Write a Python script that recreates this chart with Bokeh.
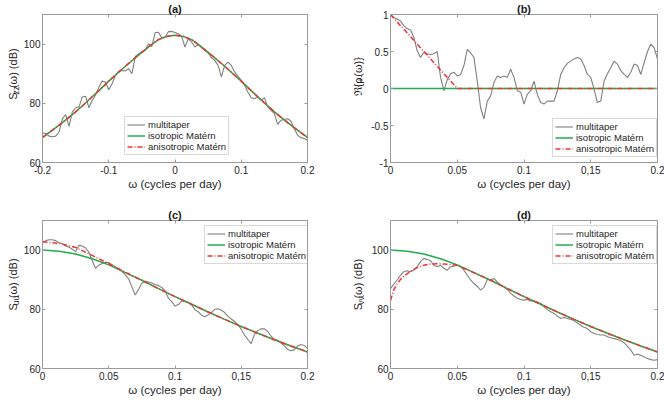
import math
from bokeh.plotting import figure
from bokeh.models import FixedTicker, LinearAxis, Legend, LegendItem, Range1d
from bokeh.core.properties import value
from bokeh.layouts import column, row
from bokeh.embed import file_html
from bokeh.resources import INLINE

# ---------------- data ----------------
FREQ_A = [-0.200, -0.195, -0.190, -0.185, -0.180, -0.175, -0.170, -0.165, -0.160, -0.155,
          -0.150, -0.145, -0.140, -0.135, -0.130, -0.125, -0.120, -0.115, -0.110, -0.105,
          -0.100, -0.095, -0.090, -0.085, -0.080, -0.075, -0.070, -0.065, -0.060, -0.055,
          -0.050, -0.045, -0.040, -0.035, -0.030, -0.025, -0.020, -0.015, -0.010, -0.005,
          0.000, 0.005, 0.010, 0.015, 0.020, 0.025, 0.030, 0.035, 0.040, 0.045,
          0.050, 0.055, 0.060, 0.065, 0.070, 0.075, 0.080, 0.085, 0.090, 0.095,
          0.100, 0.105, 0.110, 0.115, 0.120, 0.125, 0.130, 0.135, 0.140, 0.145,
          0.150, 0.155, 0.160, 0.165, 0.170, 0.175, 0.180, 0.185, 0.190, 0.195,
          0.200]
MT_A = [70.0, 69.8, 68.9, 68.7, 68.9, 70.3, 74.8, 76.2, 72.2, 77.1,
        78.5, 78.8, 82.1, 82.4, 78.5, 81.0, 82.7, 85.3, 87.5, 87.2,
        84.6, 86.6, 89.4, 90.9, 91.1, 90.9, 91.7, 90.0, 95.8, 96.7,
        97.3, 97.9, 100.1, 99.2, 103.9, 104.0, 102.1, 102.4, 104.2, 104.3,
        103.9, 103.5, 102.6, 99.0, 101.8, 100.7, 99.0, 99.9, 98.8, 97.9,
        97.0, 95.4, 94.5, 92.8, 88.9, 92.8, 93.9, 92.8, 90.6, 89.1,
        87.8, 86.1, 83.8, 81.9, 81.6, 82.1, 81.0, 81.9, 78.8, 77.6,
        76.5, 72.9, 74.3, 74.5, 74.8, 74.0, 71.5, 69.2, 68.4, 68.1,
        67.5]

FREQ_POS = [0.0000, 0.0025, 0.0050, 0.0075, 0.0100, 0.0125, 0.0150, 0.0175, 0.0200, 0.0225,
            0.0250, 0.0275, 0.0300, 0.0325, 0.0350, 0.0375, 0.0400, 0.0425, 0.0450, 0.0475,
            0.0500, 0.0525, 0.0550, 0.0575, 0.0600, 0.0625, 0.0650, 0.0675, 0.0700, 0.0725,
            0.0750, 0.0775, 0.0800, 0.0825, 0.0850, 0.0875, 0.0900, 0.0925, 0.0950, 0.0975,
            0.1000, 0.1025, 0.1050, 0.1075, 0.1100, 0.1125, 0.1150, 0.1175, 0.1200, 0.1225,
            0.1250, 0.1275, 0.1300, 0.1325, 0.1350, 0.1375, 0.1400, 0.1425, 0.1450, 0.1475,
            0.1500, 0.1525, 0.1550, 0.1575, 0.1600, 0.1625, 0.1650, 0.1675, 0.1700, 0.1725,
            0.1750, 0.1775, 0.1800, 0.1825, 0.1850, 0.1875, 0.1900, 0.1925, 0.1950, 0.1975,
            0.2000]
MT_B = [1.00, 0.96, 0.94, 0.91, 0.85, 0.81, 0.79, 0.69, 0.51, 0.42,
        0.49, 0.47, 0.46, 0.47, 0.50, 0.15, -0.03, 0.12, 0.20, 0.22,
        0.17, 0.19, 0.31, 0.53, 0.48, 0.42, 0.10, -0.26, -0.41, -0.17,
        -0.10, 0.08, 0.17, 0.15, 0.17, 0.15, 0.26, 0.15, -0.03, -0.05,
        -0.21, -0.08, -0.03, 0.10, -0.08, -0.19, -0.21, -0.17, -0.17, -0.17,
        -0.03, 0.19, 0.28, 0.34, 0.37, 0.40, 0.42, 0.40, 0.31, 0.19,
        0.15, -0.01, -0.19, -0.17, 0.10, 0.20, 0.28, 0.37, 0.33, 0.24,
        0.19, 0.15, 0.22, 0.33, 0.31, 0.19, 0.35, 0.50, 0.60, 0.55,
        0.40]
MT_C = [102.6, 103.2, 103.5, 103.5, 103.2, 102.5, 102.1, 101.4, 101.0, 100.3,
        99.5, 101.6, 101.4, 100.7, 99.3, 96.5, 93.8, 94.9, 95.5, 95.9,
        95.8, 95.1, 94.3, 93.7, 92.8, 91.6, 90.3, 87.5, 84.8, 86.8,
        88.8, 89.5, 89.2, 88.9, 88.4, 88.0, 87.4, 86.2, 83.8, 82.6,
        81.1, 81.6, 82.8, 82.6, 82.4, 81.5, 79.9, 79.2, 78.0, 77.5,
        78.1, 78.9, 80.0, 80.2, 79.7, 78.9, 77.6, 76.7, 75.9, 74.8,
        73.2, 71.3, 69.8, 68.4, 71.6, 72.8, 73.4, 73.4, 72.5, 70.9,
        69.8, 69.5, 68.6, 67.7, 66.4, 66.0, 66.3, 67.6, 68.1, 67.8,
        66.8]
MT_D = [87.0, 88.5, 89.9, 91.5, 92.7, 93.0, 92.7, 93.2, 94.4, 96.1,
        97.2, 96.8, 96.4, 94.9, 94.4, 94.9, 93.8, 93.2, 94.4, 94.6,
        94.9, 94.4, 93.2, 91.5, 89.9, 88.7, 87.8, 86.5, 87.4, 90.1,
        89.9, 90.4, 89.3, 88.2, 87.6, 86.7, 85.4, 84.5, 83.7, 83.3,
        83.1, 83.3, 82.8, 82.9, 82.5, 82.0, 80.8, 79.9, 79.2, 78.6,
        77.7, 76.9, 77.2, 76.9, 76.6, 76.1, 75.4, 74.6, 73.9, 73.5,
        72.4, 71.8, 71.5, 71.3, 71.3, 70.7, 70.4, 70.1, 69.8, 69.4,
        68.7, 67.5, 66.2, 64.5, 64.8, 64.5, 63.9, 63.4, 63.0, 62.8,
        63.0]

# model fits
FREQ_MODEL_A = [-0.2, -0.1875, -0.175, -0.1625, -0.15, -0.1375, -0.125, -0.1125, -0.1, -0.0875,
                -0.075, -0.0625, -0.05, -0.0375, -0.025, -0.0125, 0.0, 0.0125, 0.025, 0.0375,
                0.05, 0.0625, 0.075, 0.0875, 0.1, 0.1125, 0.125, 0.1375, 0.15, 0.1625,
                0.175, 0.1875, 0.2]
ISO_A = [68.5, 70.5, 72.6, 74.8, 77.1, 79.6, 82.2, 84.8, 87.5, 90.0,
         92.5, 94.9, 97.2, 99.5, 101.5, 102.6, 103.0, 102.6, 101.5, 99.5,
         97.2, 94.9, 92.5, 90.0, 87.5, 84.8, 82.2, 79.6, 77.1, 74.8,
         72.6, 70.5, 68.5]
ANISO_A = [68.4, 70.5, 72.6, 74.8, 77.1, 79.6, 82.2, 84.8, 87.5, 90.0,
           92.5, 94.9, 97.2, 99.5, 101.5, 102.6, 103.0, 102.6, 101.5, 99.5,
           97.2, 94.9, 92.5, 90.0, 87.5, 84.8, 82.2, 79.6, 77.1, 74.8,
           72.6, 70.5, 68.4]

FREQ_ISO_B = [0.0, 0.2]
ISO_B = [0.0, 0.0]
FREQ_ANISO_B = [0.0, 0.01, 0.02, 0.03, 0.04, 0.05, 0.2]
ANISO_B = [1.0, 0.8, 0.6, 0.4, 0.2, 0.0, 0.0]

FREQ_MODEL_POS = [0.0, 0.0125, 0.025, 0.0375, 0.05, 0.0625, 0.075, 0.0875, 0.1, 0.1125,
                  0.125, 0.1375, 0.15, 0.1625, 0.175, 0.1875, 0.2]
ISO_CD = [100.0, 99.6, 98.7, 97.1, 95.0, 92.4, 89.8, 87.0, 84.3, 81.7,
          79.1, 76.6, 74.2, 71.9, 69.7, 67.6, 65.6]
ANISO_C = [102.8, 102.3, 100.9, 98.2, 95.4, 92.5, 89.8, 87.0, 84.3, 81.7,
           79.1, 76.6, 74.2, 71.9, 69.7, 67.6, 65.6]
FREQ_ANISO_D = [0.0, 0.0025, 0.005, 0.0075, 0.01, 0.015, 0.02, 0.025, 0.03, 0.035,
                0.04, 0.045, 0.05, 0.0625, 0.075, 0.0875, 0.1, 0.1125, 0.125, 0.1375,
                0.15, 0.1625, 0.175, 0.1875, 0.2]
ANISO_D = [83.0, 86.6, 88.6, 90.1, 91.2, 92.9, 94.1, 94.9, 95.3, 95.4,
           95.3, 95.1, 94.8, 92.4, 89.8, 87.0, 84.3, 81.7, 79.1, 76.6,
           74.2, 71.9, 69.7, 67.6, 65.6]

# ticks
XT_A = [-0.2, -0.1, 0, 0.1, 0.2]
XL_A = ["-0.2", "-0.1", "0", "0.1", "0.2"]
XT_POS = [0, 0.05, 0.1, 0.15, 0.2]
XL_POS = ["0", "0.05", "0.1", "0,15", "0.2"]
YT_DB = [60, 80, 100]
YL_DB = ["60", "80", "100"]
YT_B = [-1, -0.5, 0, 0.5, 1]
YL_B = ["-1", "-0.5", "0", "0.5", "1"]

TITLES = ["(a)", "(b)", "(c)", "(d)"]
XLABEL = "ω (cycles per day)"
LEGEND_LABELS = ["multitaper", "isotropic Matérn", "anisotropic Matérn"]
# y labels: (text, font px, subscript drop px)
YLAB_A = [("S", 11, 0), ("zz", 8.5, 3), ("(ω) (dB)", 11, 0)]
YLAB_B = [("ℜ{ρ", 11, 0), ("+-", 8.5, 3), ("(ω)}", 11, 0)]
YLAB_C = [("S", 11, 0), ("uu", 8.5, 3), ("(ω) (dB)", 11, 0)]
YLAB_D = [("S", 11, 0), ("vv", 8.5, 3), ("(ω) (dB)", 11, 0)]

# ---------------- style ----------------
FONT = "Liberation Sans"
TXT = "#262626"
AXC = "#9b9b9b"
C_MT = "#808080"
C_ISO = "#1fae4c"
C_ANI = "#f03232"

CW = {"S": .667, "z": .5, "u": .556, "v": .5, "(": .333, ")": .333, "ω": .69,
      " ": .278, "d": .556, "B": .667, "ℜ": .8, "{": .334, "}": .334, "ρ": .58,
      "+": .584, "-": .333}


def tw(s, size):
    return sum(CW.get(ch, .556) for ch in s) * size


def style_axis(ax, ticks, labels=None):
    ax.ticker = FixedTicker(ticks=ticks)
    if labels is not None:
        ax.major_label_overrides = {t: l for t, l in zip(ticks, labels)}
    ax.major_tick_in = 3
    ax.major_tick_out = 0
    ax.minor_tick_line_color = None
    ax.axis_line_color = AXC
    ax.major_tick_line_color = AXC
    ax.major_label_text_font = FONT
    ax.major_label_text_font_size = "10px"
    ax.major_label_text_color = TXT
    ax.major_label_standoff = 3


def make_panel(width, height, mbl, mbr, mbt, mbb, title, xr, yr, xt, xl, yt, yl):
    p = figure(width=width, height=height, output_backend="svg", toolbar_location=None,
               x_range=Range1d(*xr), y_range=Range1d(*yr), title=title,
               min_border_left=mbl, min_border_right=mbr,
               min_border_top=mbt, min_border_bottom=mbb,
               background_fill_color="white", border_fill_color="white")
    p.title.align = "center"
    p.title.text_font = FONT
    p.title.text_font_size = "11px"
    p.title.text_font_style = "bold"
    p.title.text_color = "#1a1a1a"
    p.title.standoff = 0
    p.title.offset = 0
    p.xgrid.visible = False
    p.ygrid.visible = False
    p.outline_line_color = AXC
    p.outline_line_width = 1
    style_axis(p.xaxis[0], xt, xl)
    style_axis(p.yaxis[0], yt, yl)
    p.yaxis[0].major_label_standoff = 2
    p.xaxis[0].axis_label = XLABEL
    p.xaxis[0].axis_label_text_font = FONT
    p.xaxis[0].axis_label_text_font_size = "11.5px"
    p.xaxis[0].axis_label_text_font_style = "normal"
    p.xaxis[0].axis_label_text_color = TXT
    p.xaxis[0].axis_label_standoff = 1
    for loc, ticks in (("above", xt), ("right", yt)):
        ax = LinearAxis()
        style_axis(ax, ticks)
        ax.major_label_text_font_size = "1px"
        ax.major_label_text_color = None
        ax.major_label_standoff = 0
        ax.axis_line_color = None
        p.add_layout(ax, loc)
    return p


def label_fig(w, h, segs, xbase, ycenter):
    # a narrow strip (frame == canvas) that holds the rotated y-axis title
    f = figure(width=w, height=h, output_backend="svg", toolbar_location=None,
               title=None, x_range=Range1d(0, w), y_range=Range1d(0, h),
               x_axis_type=None, y_axis_type=None, min_border=0,
               min_border_left=0, min_border_right=0, min_border_top=0, min_border_bottom=0,
               outline_line_color=None, background_fill_color="white",
               border_fill_color="white")
    total = sum(tw(t, s) for t, s, d in segs)
    y = ycenter - total / 2
    for t, s, d in segs:
        f.text(x=[xbase + d], y=[y], text=[t], angle=math.pi / 2,
               text_font=value(FONT), text_font_size=value(f"{s}px"), text_color=TXT,
               text_align="left", text_baseline="alphabetic")
        y += tw(t, s)
    return f


def add_lines(p, mt_x, mt_y, iso_x, iso_y, ani_x, ani_y, loc):
    r1 = p.line(mt_x, mt_y, line_color=C_MT, line_width=1.1)
    r2 = p.line(iso_x, iso_y, line_color=C_ISO, line_width=1.5)
    r3 = p.line(ani_x, ani_y, line_color=C_ANI, line_width=1.5, line_dash="5 2 1 2")
    leg = Legend(items=[LegendItem(label=LEGEND_LABELS[0], renderers=[r1]),
                        LegendItem(label=LEGEND_LABELS[1], renderers=[r2]),
                        LegendItem(label=LEGEND_LABELS[2], renderers=[r3])],
                 location=loc)
    leg.label_text_font = FONT
    leg.label_text_font_size = "9.5px"
    leg.label_text_color = TXT
    leg.glyph_width = 18
    leg.glyph_height = 11
    leg.label_height = 11
    leg.label_standoff = 3
    leg.padding = 2
    leg.spacing = 0
    leg.margin = 0
    leg.border_line_color = "#b4b4b4"
    leg.border_line_width = 1
    leg.background_fill_color = "white"
    leg.background_fill_alpha = 1.0
    p.add_layout(leg)


# layout geometry (pixels)
LAB_L, WL = 20, 312
LAB_R, WR = 34, 298
HT, HB = 200, 200
L_MBL, L_MBR = 20, 25
R_MBL, R_MBR = 24, 7
T_MBT, T_MBB = 14, 38
B_MBT, B_MBB = 20, 32
FW_L = WL - L_MBL - L_MBR
FW_R = WR - R_MBL - R_MBR
FH_T = HT - T_MBT - T_MBB
FH_B = HB - B_MBT - B_MBB
LEG_W = 104
LEG_H = 37
YC_T = HT - (T_MBT + FH_T / 2)
YC_B = HB - (B_MBT + FH_B / 2)

pa = make_panel(WL, HT, L_MBL, L_MBR, T_MBT, T_MBB, TITLES[0], (-0.2, 0.2), (60, 110),
                XT_A, XL_A, YT_DB, YL_DB)
add_lines(pa, FREQ_A, MT_A, FREQ_MODEL_A, ISO_A, FREQ_MODEL_A, ANISO_A, (82, 7))
la = label_fig(LAB_L, HT, YLAB_A, 12, YC_T)

pb = make_panel(WR, HT, R_MBL, R_MBR, T_MBT, T_MBB, TITLES[1], (0, 0.2), (-1, 1),
                XT_POS, XL_POS, YT_B, YL_B)
add_lines(pb, FREQ_POS, MT_B, FREQ_ISO_B, ISO_B, FREQ_ANISO_B, ANISO_B,
          (FW_R - LEG_W - 1, 5))
lb = label_fig(LAB_R, HT, YLAB_B, 25, YC_T)

pc = make_panel(WL, HB, L_MBL, L_MBR, B_MBT, B_MBB, TITLES[2], (0, 0.2), (60, 110),
                XT_POS, XL_POS, YT_DB, YL_DB)
add_lines(pc, FREQ_POS, MT_C, FREQ_MODEL_POS, ISO_CD, FREQ_MODEL_POS, ANISO_C,
          (FW_L - LEG_W - 1, FH_B - LEG_H - 7))
lc = label_fig(LAB_L, HB, YLAB_C, 12, YC_B)

pd = make_panel(WR, HB, R_MBL, R_MBR, B_MBT, B_MBB, TITLES[3], (0, 0.2), (60, 110),
                XT_POS, XL_POS, YT_DB, YL_DB)
add_lines(pd, FREQ_POS, MT_D, FREQ_MODEL_POS, ISO_CD, FREQ_ANISO_D, ANISO_D,
          (FW_R - LEG_W - 1, FH_B - LEG_H - 7))
ld = label_fig(LAB_R, HB, YLAB_D, 25, YC_B)

layout = column(row(la, pa, lb, pb), row(lc, pc, ld, pd))
open("out.html", "w").write(file_html(layout, INLINE))
